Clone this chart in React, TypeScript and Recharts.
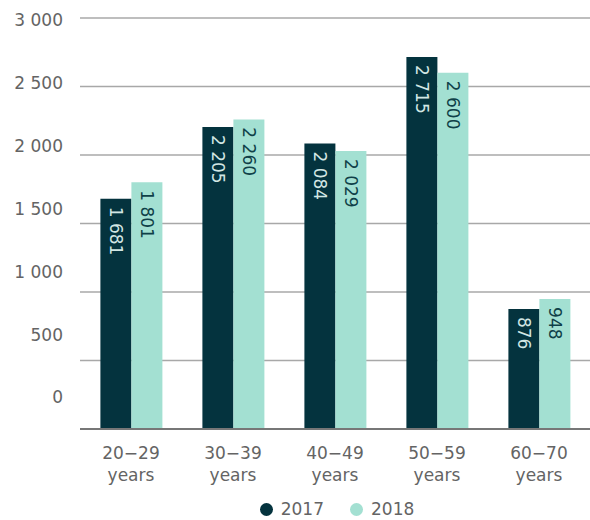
import { BarChart, Bar, XAxis, YAxis, CartesianGrid, Legend, LabelList } from 'recharts';

const categories = ['20−29|years', '30−39|years', '40−49|years', '50−59|years', '60−70|years'];
const values2017 = [1681, 2205, 2084, 2715, 876];
const values2018 = [1801, 2260, 2029, 2600, 948];
const yTicks = [0, 500, 1000, 1500, 2000, 2500, 3000];

const DARK = '#04333e';
const LIGHT = '#a3e0d2';
const FONT = '"DejaVu Sans", sans-serif';
const TEXT = '#646464';

const data = categories.map((c, i) => ({ name: c, y2017: values2017[i], y2018: values2018[i] }));

const fmt = (v: number) => String(v).replace(/\B(?=(\d{3})+(?!\d))/g, ' ');

const YTick = (props: any) => {
  const { x, y, payload } = props;
  // labels sit above their gridlines, drifting further up toward zero
  const dy = 2 - ((3000 - payload.value) / 500) * 5.6;
  return (
    <text x={x - 9} y={y + dy} textAnchor="end" dominantBaseline="central" fill={TEXT} fontSize={17} fontFamily={FONT}>
      {fmt(payload.value)}
    </text>
  );
};

const XTick = (props: any) => {
  const { x, y, payload } = props;
  const [a, b] = String(payload.value).split('|');
  return (
    <text x={x} textAnchor="middle" fill={TEXT} fontSize={17} fontFamily={FONT}>
      <tspan x={x} y={y + 22}>{a}</tspan>
      <tspan x={x} y={y + 44}>{b}</tspan>
    </text>
  );
};

const makeLabel = (color: string) => (props: any) => {
  const { x, y, width, value } = props;
  const cx = x + width / 2;
  const ty = y + 8;
  return (
    <text
      x={cx}
      y={ty}
      transform={`rotate(90, ${cx}, ${ty})`}
      textAnchor="start"
      dominantBaseline="central"
      fill={color}
      fontSize={17}
      fontFamily={FONT}
    >
      {fmt(value)}
    </text>
  );
};

const LegendContent = () => (
  <div style={{ display: 'flex', justifyContent: 'center', gap: 26, fontFamily: FONT, fontSize: 17, color: TEXT, paddingLeft: 84, paddingTop: 4 }}>
    {[
      { label: '2017', color: DARK },
      { label: '2018', color: LIGHT },
    ].map((it) => (
      <div key={it.label} style={{ display: 'flex', alignItems: 'center', gap: 8 }}>
        <span style={{ width: 13, height: 13, borderRadius: '50%', background: it.color, display: 'inline-block' }} />
        <span>{it.label}</span>
      </div>
    ))}
  </div>
);

export default function App() {
  return (
    <div style={{ width: 590, height: 520 }}>
      <style>{`body{margin:0}`}</style>
      <BarChart width={590} height={520} data={data} margin={{ top: 18, right: 0, left: 0, bottom: 0 }} barCategoryGap="20%" barGap={0}>
        <CartesianGrid vertical={false} stroke="#a8a8a8" strokeWidth={1.3} />
        <YAxis width={80} domain={[0, 3000]} ticks={yTicks} axisLine={false} tickLine={false} tick={<YTick />} interval={0} />
        <XAxis dataKey="name" height={66} axisLine={{ stroke: '#777', strokeWidth: 2 }} tickLine={false} tick={<XTick />} interval={0} />
        <Legend verticalAlign="bottom" height={25} content={<LegendContent />} />
        <Bar dataKey="y2017" fill={DARK} isAnimationActive={false}>
          <LabelList dataKey="y2017" content={makeLabel('#d2e6e4')} />
        </Bar>
        <Bar dataKey="y2018" fill={LIGHT} isAnimationActive={false}>
          <LabelList dataKey="y2018" content={makeLabel('#0f4048')} />
        </Bar>
      </BarChart>
    </div>
  );
}
